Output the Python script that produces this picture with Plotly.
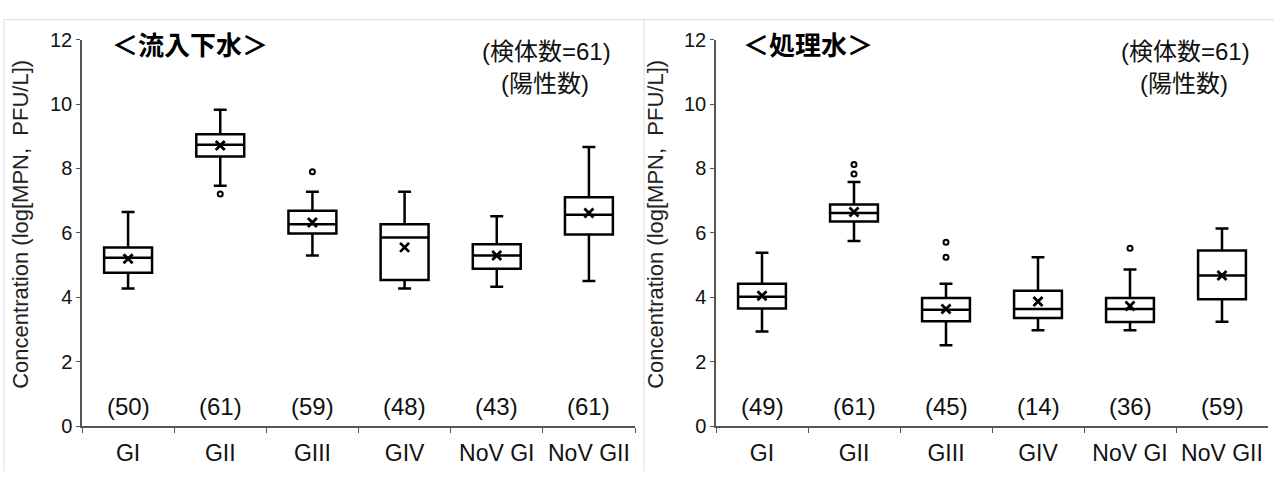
import plotly.graph_objects as go

# ---------------- data ----------------
categories = ["GI", "GII", "GIII", "GIV", "NoV GI", "NoV GII"]

# 流入下水 (influent)
inf_lower = [4.27, 7.46, 5.30, 4.27, 4.33, 4.51]
inf_q1 = [4.76, 8.37, 5.98, 4.54, 4.89, 5.95]
inf_median = [5.23, 8.74, 6.27, 5.86, 5.30, 6.56]
inf_q3 = [5.55, 9.06, 6.69, 6.27, 5.65, 7.11]
inf_upper = [6.65, 9.82, 7.28, 7.28, 6.52, 8.67]
inf_mean = [5.20, 8.71, 6.32, 5.55, 5.30, 6.62]
inf_out_cat = ["GII", "GIII"]
inf_out_val = [7.21, 7.90]
inf_counts = [50, 61, 59, 48, 43, 61]

# 処理水 (effluent)
eff_lower = [2.94, 5.75, 2.51, 2.98, 2.98, 3.24]
eff_q1 = [3.65, 6.35, 3.26, 3.36, 3.23, 3.94]
eff_median = [4.02, 6.62, 3.61, 3.64, 3.64, 4.68]
eff_q3 = [4.42, 6.88, 3.98, 4.20, 3.98, 5.45]
eff_upper = [5.38, 7.58, 4.42, 5.24, 4.86, 6.14]
eff_mean = [4.05, 6.65, 3.64, 3.87, 3.73, 4.68]
eff_out_cat = ["GII", "GII", "GIII", "GIII", "NoV GI"]
eff_out_val = [8.12, 7.83, 5.71, 5.24, 5.52]
eff_counts = [49, 61, 45, 14, 36, 59]

panel_titles = ["＜流入下水＞", "＜処理水＞"]
note_line1 = "(検体数=61)"
note_line2 = "(陽性数)"
y_title = "Concentration (log[MPN,\u00a0\u00a0PFU/L])"
y_ticks = [0, 2, 4, 6, 8, 10, 12]

# ---------------- layout constants ----------------
W, H = 1274, 482
FONT = "Liberation Sans, Arial, Noto Sans CJK JP, sans-serif"
AXCOL = "#555555"

def px_x(p):
    return p / W

def px_y(p):
    return 1 - p / H

x1_dom = [px_x(82), px_x(635)]
x2_dom = [px_x(716), px_x(1268)]
y_dom = [px_y(435), px_y(30)]

fig = go.Figure()

panels = [
    ("x", "y", inf_lower, inf_q1, inf_median, inf_q3, inf_upper, inf_mean,
     inf_out_cat, inf_out_val, inf_counts),
    ("x2", "y2", eff_lower, eff_q1, eff_median, eff_q3, eff_upper, eff_mean,
     eff_out_cat, eff_out_val, eff_counts),
]

annotations = []
for (xa, ya, lo, q1, med, q3, up, mean, oc, ov, counts) in panels:
    fig.add_trace(go.Box(
        x=categories, lowerfence=lo, q1=q1, median=med, q3=q3, upperfence=up,
        boxpoints=False, fillcolor="white",
        line=dict(color="black", width=2.5),
        width=0.52, whiskerwidth=0.27,
        xaxis=xa, yaxis=ya, showlegend=False, hoverinfo="skip",
    ))
    fig.add_trace(go.Scatter(
        x=categories, y=mean, mode="markers",
        marker=dict(symbol="x-thin", size=9, color="black",
                    line=dict(width=2.8, color="black")),
        xaxis=xa, yaxis=ya, showlegend=False, hoverinfo="skip",
    ))
    fig.add_trace(go.Scatter(
        x=oc, y=ov, mode="markers",
        marker=dict(symbol="circle-open", size=5, color="black",
                    line=dict(width=2, color="black")),
        xaxis=xa, yaxis=ya, showlegend=False, hoverinfo="skip",
    ))
    for c, n in zip(categories, counts):
        annotations.append(dict(
            x=c, y=0.6, xref=xa, yref=ya, text=f"({n})", showarrow=False,
            font=dict(family=FONT, size=24, color="#111111"),
            xanchor="center", yanchor="middle",
        ))

# panel titles and notes
for i, (title, left, note_right, ytx) in enumerate(
        [(panel_titles[0], 110, 613, 21), (panel_titles[1], 741, 1252, 656)]):
    annotations.append(dict(
        x=px_x(left), y=px_y(34), xref="paper", yref="paper",
        text=f"<b>{title}</b>", showarrow=False,
        font=dict(family="Noto Sans CJK JP, sans-serif", size=26, color="black"),
        xanchor="left", yanchor="middle",
    ))
    annotations.append(dict(
        x=px_x(note_right), y=px_y(42), xref="paper", yref="paper",
        text=note_line1, showarrow=False,
        font=dict(family=FONT, size=24, color="#111111"),
        xanchor="right", yanchor="middle",
    ))
    annotations.append(dict(
        x=px_x(note_right - 68), y=px_y(76), xref="paper", yref="paper",
        text=note_line2, showarrow=False,
        font=dict(family=FONT, size=24, color="#111111"),
        xanchor="center", yanchor="middle",
    ))
    # y-axis title
    annotations.append(dict(
        x=px_x(ytx), y=px_y(224), xref="paper", yref="paper",
        text=y_title, showarrow=False, textangle=-90,
        font=dict(family=FONT, size=22, color="#222222"),
        xanchor="center", yanchor="middle",
    ))

xaxis_common = dict(
    type="category", categoryorder="array", categoryarray=categories,
    range=[-0.5, 5.5], showline=True, linecolor=AXCOL, linewidth=1.5,
    ticks="outside", tickson="boundaries", ticklen=5, tickcolor=AXCOL,
    tickwidth=1.2, showgrid=False, zeroline=False,
    tickfont=dict(family=FONT, size=23, color="#111111"),
    ticklabelstandoff=6,
)
yaxis_common = dict(
    range=[0, 12], tickvals=y_ticks, showline=True, linecolor=AXCOL,
    linewidth=1.5, ticks="outside", ticklen=4, tickcolor=AXCOL, tickwidth=1.2,
    showgrid=False, zeroline=False,
    tickfont=dict(family=FONT, size=20, color="#111111"),
)

fig.update_layout(
    width=W, height=H,
    margin=dict(l=0, r=0, t=0, b=0),
    paper_bgcolor="white", plot_bgcolor="white",
    xaxis=dict(domain=x1_dom, anchor="y", **xaxis_common),
    yaxis=dict(domain=y_dom, anchor="x", **yaxis_common),
    xaxis2=dict(domain=x2_dom, anchor="y2", **xaxis_common),
    yaxis2=dict(domain=y_dom, anchor="x2", **yaxis_common),
    annotations=annotations,
    showlegend=False,
    shapes=[
        dict(type="line", xref="paper", yref="paper",
             x0=px_x(4), x1=1, y0=px_y(9), y1=px_y(9),
             line=dict(color="#dddddd", width=1)),
        dict(type="line", xref="paper", yref="paper",
             x0=px_x(4), x1=px_x(4), y0=0, y1=px_y(9),
             line=dict(color="#dddddd", width=1)),
        dict(type="line", xref="paper", yref="paper",
             x0=px_x(644), x1=px_x(644), y0=0, y1=px_y(9),
             line=dict(color="#dddddd", width=1)),
    ],
)

fig.write_html("out.html")
